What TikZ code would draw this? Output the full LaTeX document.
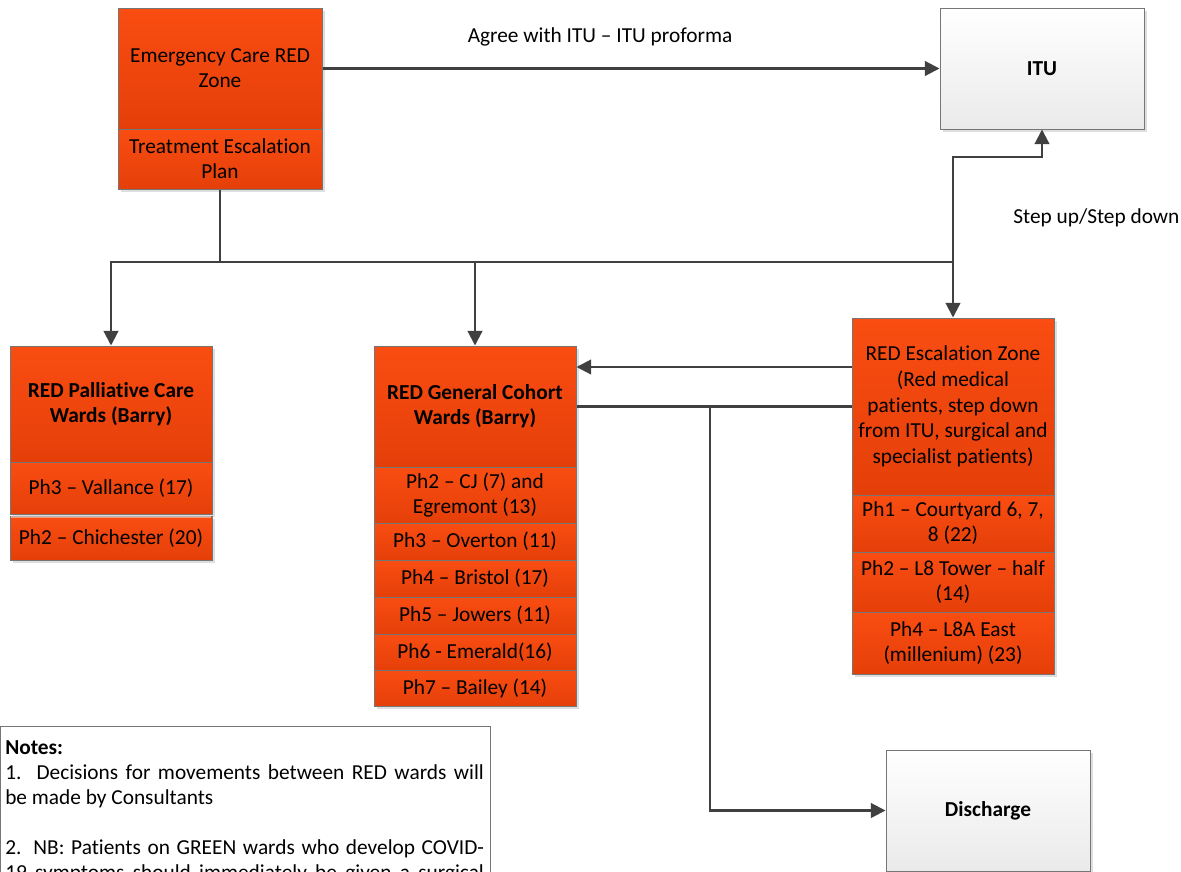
\documentclass[tikz,border=0pt]{standalone}
\usepackage{fontspec}
\setmainfont{Carlito}[Ligatures=NoCommon]
\usetikzlibrary{arrows.meta,shadows}
\definecolor{redtop}{RGB}{249,77,18}
\definecolor{redbot}{RGB}{229,63,9}
\definecolor{edgegray}{RGB}{118,118,118}
\definecolor{linegray}{RGB}{64,64,64}
\definecolor{lightgray1}{RGB}{234,234,234}
\newcommand{\jline}[1]{\makebox[359pt][s]{#1}}
\begin{document}
\begin{tikzpicture}[x=0.75pt,y=-0.75pt,
  txt/.style={font=\fontsize{16}{18.75}\selectfont},
  boxshadow/.style={drop shadow={shadow xshift=2pt,shadow yshift=-2pt,fill=black!13,opacity=1}},
  redbox/.style={txt,draw=edgegray,line width=0.75pt,top color=redtop,bottom color=redbot,
    align=center,inner sep=1pt,minimum width=151.5pt,boxshadow},
  greybox/.style={txt,draw=edgegray,line width=0.75pt,top color=white,bottom color=lightgray1,
    align=center,minimum width=153pt,minimum height=90.75pt,boxshadow},
  wire/.style={draw=linegray,line width=1.6pt},
  arr/.style={wire,-{Triangle[length=11pt,width=11pt]}},
  lbl/.style={txt,inner sep=0pt}]
\clip (0,0) rectangle (1181,871);
\fill[white] (0,0) rectangle (1181,871);

% Emergency care
\node[redbox,minimum width=153pt,minimum height=90.75pt] (emerg) at (220,68.5) {Emergency Care RED\\Zone};
\node[redbox,minimum width=153pt,minimum height=45pt] (plan) at (220,159) {Treatment Escalation\\Plan};

% ITU
\node[greybox] (itu) at (1042,68.5) {\textbf{ITU}};

% Palliative
\node[redbox,minimum height=87pt] (pall) at (111,404) {\textbf{RED Palliative Care}\\\textbf{Wards (Barry)}};
\node[redbox,minimum height=39pt] (pall1) at (111,488) {Ph3 – Vallance (17)};
\node[redbox,minimum height=33pt] (pall2) at (111,538) {Ph2 – Chichester (20)};
\draw[white,opacity=0.45,line width=1.2pt] ([xshift=1pt,yshift=-1.2pt]pall2.north west) -- ([xshift=-1pt,yshift=-1.2pt]pall2.north east);

% General cohort
\node[redbox,minimum height=90.75pt] (gen) at (475,406.5) {\textbf{RED General Cohort}\\\textbf{Wards (Barry)}};
\node[redbox,minimum height=42pt] (gen1) at (475,495) {Ph2 – CJ (7) and\\Egremont (13)};
\node[redbox,minimum height=27.75pt] (gen2) at (475,541.5) {Ph3 – Overton (11)};
\node[redbox,minimum height=27.75pt] (gen3) at (475,578.5) {Ph4 – Bristol (17)};
\node[redbox,minimum height=27.75pt] (gen4) at (475,615.5) {Ph5 – Jowers (11)};
\node[redbox,minimum height=27pt] (gen5) at (475,652) {Ph6 - Emerald(16)};
\node[redbox,minimum height=27pt] (gen6) at (475,688) {Ph7 – Bailey (14)};

% Escalation
\node[redbox,minimum height=132.75pt,font=\fontsize{16}{19.3}\selectfont] (esc) at (953,406.5) {RED Escalation Zone\\(Red medical\\patients, step down\\from ITU, surgical and\\specialist patients)};
\node[redbox,minimum height=42.75pt] (esc1) at (953,523.5) {Ph1 – Courtyard 6, 7,\\8 (22)};
\node[redbox,minimum height=45pt] (esc2) at (953,582) {Ph2 – L8 Tower – half\\(14)};
\node[redbox,minimum height=46.5pt] (esc3) at (953,643) {Ph4 – L8A East\\(millenium) (23)};

% Discharge
\node[greybox] (dis) at (988,810.5) {\textbf{Discharge}};

% Notes
\draw[draw=edgegray,line width=0.75pt,fill=white] (0.5,726) rectangle (490,1000);
\node[txt,anchor=north west,align=left,inner sep=0pt] (notes) at (5,740)
 {\textbf{Notes:}\\
  \jline{1.\ \ Decisions for movements between RED wards will}\\
  be made by Consultants\\[18.75pt]
  \jline{2. NB: Patients on GREEN wards who develop COVID-}\\
  \jline{19 symptoms should immediately be given a surgical}};

% Labels
\node[lbl] (agree) at (600,37) {Agree with ITU – ITU proforma};
\node[lbl,anchor=west] (step) at (1013,218) {Step up/Step down};

% Connectors
\coordinate (J) at (220,262);
\coordinate (S) at (952,157);
\coordinate (A) at (852,367);
\coordinate (B) at (710,406.5);
\draw[arr] (emerg.east) -- (itu.west);
\draw[wire] (plan.south) -- (J);
\draw[arr] (J) -| (pall.north);
\draw[arr] (J) -| (gen.north);
\draw[arr] (J) -| (esc.north);
\draw[arr] (J -| esc.north) |- (S) -| (itu.south);
\draw[arr] (A -| esc.west) -- (A -| gen.east);
\draw[wire] (gen.east) -- (esc.west);
\draw[arr] (B) |- (dis.west);
\end{tikzpicture}
\end{document}
